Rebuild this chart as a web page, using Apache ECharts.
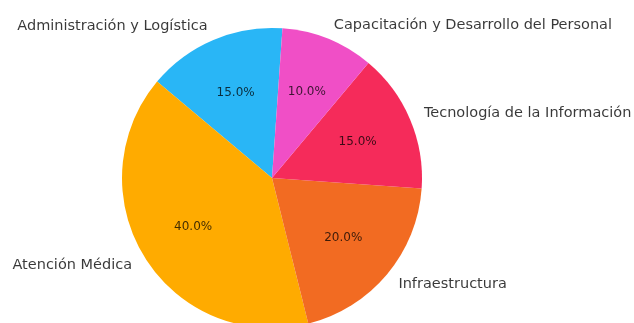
<!DOCTYPE html>
<html>
<head>
<meta charset="utf-8">
<script src="https://cdn.jsdelivr.net/npm/echarts@6/dist/echarts.min.js"></script>
<style>
  html, body { margin: 0; padding: 0; background: #ffffff; }
  #chart { width: 634px; height: 323px; }
</style>
</head>
<body>
<div id="chart"></div>
<script>
// Budget share by area, listed counter-clockwise from the top of the pie
const categories = [
  'Administración y Logística',
  'Atención Médica',
  'Infraestructura',
  'Tecnología de la Información',
  'Capacitación y Desarrollo del Personal'
];
const shares = [15, 40, 20, 15, 10];
const colors = ['#29b6f6', '#ffab00', '#f26b22', '#f52b5a', '#f04fc6'];

const FONT = '"DejaVu Sans", Verdana, sans-serif';
const R = 150;
const CENTER = [272, 178];
const START = 86;

const pieData = categories.map((name, i) => ({
  name: name,
  value: shares[i],
  itemStyle: { color: colors[i] }
}));

const total = shares.reduce((a, b) => a + b, 0);

const chart = echarts.init(document.getElementById('chart'), null, { renderer: 'canvas' });
chart.setOption({
  backgroundColor: '#ffffff',
  animation: false,
  series: [
    {
      // wedges with category names just outside the rim
      type: 'pie',
      center: CENTER,
      radius: [0, R],
      startAngle: START,
      clockwise: false,
      avoidLabelOverlap: false,
      silent: true,
      data: pieData,
      label: {
        show: true,
        position: 'outside',
        formatter: '{b}',
        distanceToLabelLine: 0,
        fontFamily: FONT,
        fontSize: 14.5,
        color: 'rgba(0,0,0,0.78)'
      },
      labelLine: { show: false, length: 15, length2: 0 }
    },
    {
      // transparent copy used to place the percentage labels at 0.6 of the radius
      type: 'pie',
      center: CENTER,
      radius: [0, R * 1.2],
      startAngle: START,
      clockwise: false,
      avoidLabelOverlap: false,
      silent: true,
      z: 3,
      data: pieData.map(d => ({ name: d.name, value: d.value, itemStyle: { color: 'rgba(0,0,0,0)' } })),
      label: {
        show: true,
        position: 'inside',
        formatter: p => (p.value / total * 100).toFixed(1) + '%',
        fontFamily: FONT,
        fontSize: 12,
        color: 'rgba(0,0,0,0.75)'
      },
      labelLine: { show: false }
    }
  ]
});
</script>
</body>
</html>
